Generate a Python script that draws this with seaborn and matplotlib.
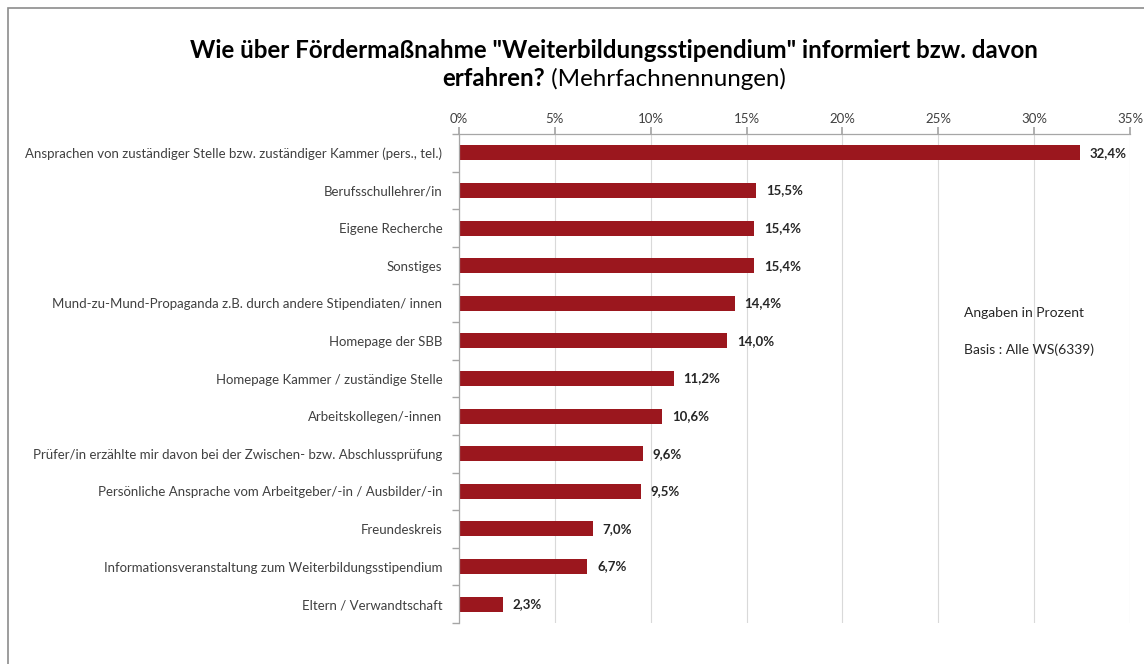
import matplotlib
matplotlib.use("Agg")
import matplotlib.pyplot as plt
from matplotlib.patches import Rectangle
from matplotlib.ticker import FuncFormatter, FixedLocator
import seaborn as sns
import pandas as pd

categories = [
    "Ansprachen von zuständiger Stelle bzw. zuständiger Kammer (pers., tel.)",
    "Berufsschullehrer/in",
    "Eigene Recherche",
    "Sonstiges",
    "Mund-zu-Mund-Propaganda z.B. durch andere Stipendiaten/ innen",
    "Homepage der SBB",
    "Homepage Kammer / zuständige Stelle",
    "Arbeitskollegen/-innen",
    "Prüfer/in erzählte mir davon bei der Zwischen- bzw. Abschlussprüfung",
    "Persönliche Ansprache vom Arbeitgeber/-in / Ausbilder/-in",
    "Freundeskreis",
    "Informationsveranstaltung zum Weiterbildungsstipendium",
    "Eltern / Verwandtschaft",
]
values = [32.4, 15.5, 15.4, 15.4, 14.4, 14.0, 11.2, 10.6, 9.6, 9.5, 7.0, 6.7, 2.3]
x_ticks = [0, 5, 10, 15, 20, 25, 30, 35]

sns.set_theme(style="white")
plt.rcParams["font.family"] = ["Lato", "DejaVu Sans"]

bar_color = "#9B171E"
text_color = "#404040"

df = pd.DataFrame({"Kategorie": categories, "Anteil": values})

fig = plt.figure(figsize=(11.44, 6.64), dpi=100)
ax = fig.add_axes([459 / 1144, 1 - 623 / 664, (1130 - 459) / 1144, (623 - 134) / 664])

sns.barplot(data=df, x="Anteil", y="Kategorie", orient="h", color=bar_color,
            width=0.4, saturation=1, ax=ax, edgecolor="none")

ax.set_xlim(0, 35)
ax.set_ylim(len(categories) - 0.5, -0.5)
ax.xaxis.tick_top()
ax.set_xticks(x_ticks)
ax.xaxis.set_major_formatter(FuncFormatter(lambda v, p: f"{int(v)}%"))
ax.set_xlabel("")
ax.set_ylabel("")
ax.grid(axis="x", color="#D9D9D9", linewidth=0.8)
ax.set_axisbelow(True)

for side in ["right", "bottom"]:
    ax.spines[side].set_visible(False)
for side in ["top", "left"]:
    ax.spines[side].set_color("#A6A6A6")
    ax.spines[side].set_linewidth(0.9)

ax.tick_params(axis="x", which="major", top=True, length=5, color="#A6A6A6",
               labelsize=9.5, labelcolor=text_color, pad=1.5)
# category ticks sit between bars
ax.set_yticks(range(len(categories)))
ax.set_yticklabels(categories)
ax.tick_params(axis="y", which="major", length=0, labelsize=9.5,
               labelcolor=text_color, pad=12)
ax.yaxis.set_minor_locator(FixedLocator([i - 0.5 for i in range(len(categories) + 1)]))
ax.tick_params(axis="y", which="minor", left=True, length=5, color="#A6A6A6")

for i, v in enumerate(values):
    ax.text(v + 0.5, i, f"{v:.1f}".replace(".", ",") + "%", va="center", ha="left",
            fontsize=9.5, fontweight="bold", color="#262626")

fig.text(964 / 1144, 1 - 313 / 664, "Angaben in Prozent", fontsize=10,
         color="#262626", va="center", ha="left")
fig.text(964 / 1144, 1 - 350 / 664, "Basis : Alle WS(6339)", fontsize=10,
         color="#262626", va="center", ha="left")

title_size = 17.4
fig.text(614 / 1144, 1 - 50 / 664,
         'Wie über Fördermaßnahme "Weiterbildungsstipendium" informiert bzw. davon',
         fontsize=title_size, fontweight="bold", color="#000000", ha="center", va="center")
t1 = fig.text(0, 1 - 79 / 664, "erfahren?", fontsize=title_size, fontweight="bold",
              color="#000000", ha="left", va="center")
t2 = fig.text(0, 1 - 79 / 664, " (Mehrfachnennungen)", fontsize=title_size,
              color="#000000", ha="left", va="center")
fig.canvas.draw()
r = fig.canvas.get_renderer()
w1 = t1.get_window_extent(r).width
w2 = t2.get_window_extent(r).width
start = 614 - (w1 + w2) / 2
t1.set_x(start / 1144)
t2.set_x((start + w1) / 1144)

fig.patches.append(Rectangle((8 / 1144, -0.1), 1.2, 1 - 8 / 664 + 0.1,
                             transform=fig.transFigure, fill=False,
                             edgecolor="#8C8C8C", linewidth=1.2))

fig.savefig("out.png", dpi=100)
